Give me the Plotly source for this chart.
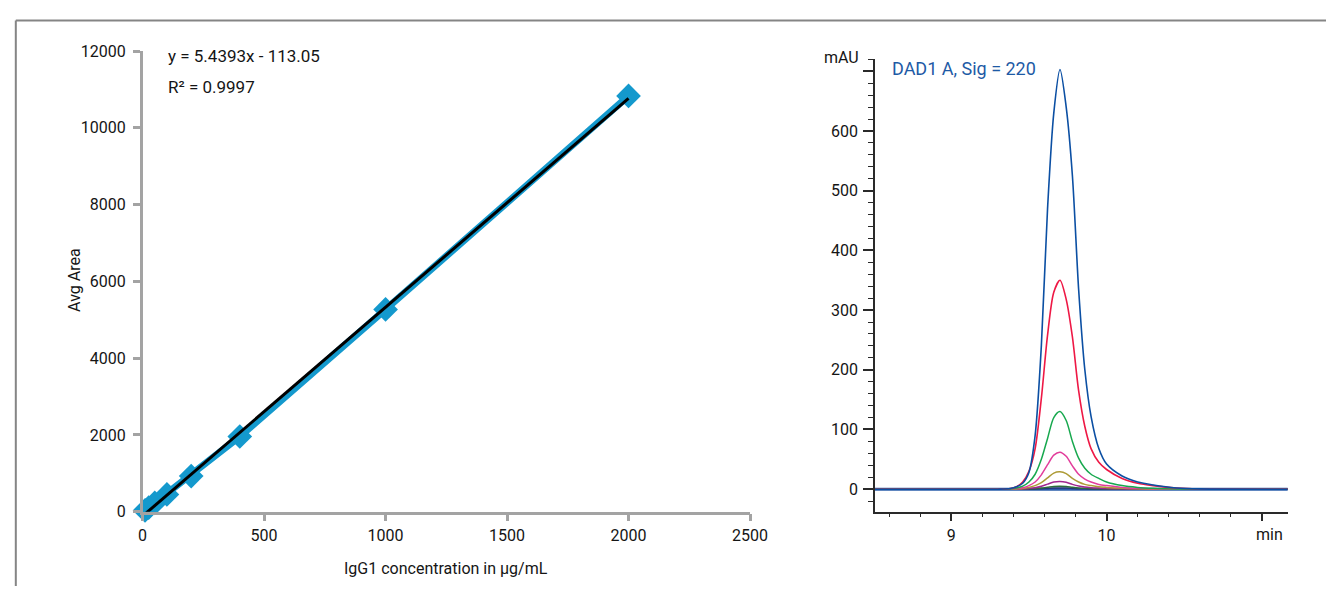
import plotly.graph_objects as go

W, H = 1344, 596

# ---------------- calibration data ----------------
conc_ug_ml = [10, 25, 50, 100, 200, 400, 1000, 2000]
avg_area = [35, 110, 230, 450, 930, 1960, 5270, 10830]
fit_slope = 5.4393
fit_intercept = -113.05
fit_r2 = 0.9997
x_ticks_cal = [0, 500, 1000, 1500, 2000, 2500]
y_ticks_cal = [0, 2000, 4000, 6000, 8000, 10000, 12000]

# ---------------- chromatogram overlay (DAD1 A, 220 nm) ----------------
rt_min = [8.50, 9.00, 9.30, 9.38, 9.42, 9.46, 9.50, 9.54, 9.58, 9.62, 9.66, 9.70, 9.74,
          9.78, 9.82, 9.86, 9.90, 9.95, 10.00, 10.10, 10.20, 10.30, 10.45, 10.60, 11.20]
mau_2000 = [0, 0, 0, 1, 4, 10, 28, 90, 240, 470, 630, 703, 640, 525, 335, 200, 122, 68, 42, 22, 12, 7, 2, 0.5, 0]
mau_1000 = [0, 0, 0, 1, 4, 12, 30, 68, 152, 258, 330, 350, 318, 255, 165, 105, 68, 45, 33, 18, 10, 6, 2, 0.5, 0]
mau_400 = [0, 0, 0, 0.5, 2, 5, 12, 25, 50, 85, 120, 130, 115, 80, 52, 35, 25, 18, 12, 6, 3, 1.5, 0.5, 0, 0]
mau_200 = [0, 0, 0, 0.3, 1, 2.5, 6, 12, 24, 41, 57, 62, 55, 39, 25, 17, 12, 8, 6, 3, 1.5, 0.7, 0.2, 0, 0]
mau_100 = [0, 0, 0, 0, 0.5, 1, 3, 6, 11, 19, 27, 29, 26, 18, 12, 8, 6, 4, 3, 1.5, 0.7, 0.3, 0, 0, 0]
mau_50 = [0, 0, 0, 0, 0.2, 0.5, 1.3, 2.5, 5, 8.5, 12, 13, 11.5, 8, 5.2, 3.5, 2.5, 1.8, 1.2, 0.6, 0.3, 0, 0, 0, 0]
mau_25 = [0, 0, 0, 0, 0, 0.2, 0.5, 1, 2, 3.3, 4.6, 5, 4.4, 3.1, 2, 1.4, 1, 0.7, 0.5, 0.2, 0.1, 0, 0, 0, 0]
mau_10 = [0, 0, 0, 0, 0, 0, 0.2, 0.4, 0.8, 1.3, 1.8, 2, 1.8, 1.3, 0.8, 0.6, 0.4, 0.3, 0.2, 0.1, 0, 0, 0, 0, 0]
mau_blank = [0] * len(rt_min)
# (values, colour, line width) in drawing order
chrom_series = [
    (mau_blank, "#2c5fab", 3.0),
    (mau_10, "#25337a", 1.5),
    (mau_25, "#2b6b3c", 1.5),
    (mau_50, "#a0268f", 1.5),
    (mau_100, "#ad9b36", 1.5),
    (mau_200, "#e23d9b", 1.5),
    (mau_400, "#17a84e", 1.5),
    (mau_1000, "#ee1845", 1.6),
    (mau_2000, "#0b4fa3", 1.6),
]
rt_major = [9, 10, 11]
rt_labels = ["9", "10", ""]
mau_major = [0, 100, 200, 300, 400, 500, 600, 700]
mau_labels = ["0", "100", "200", "300", "400", "500", "600", ""]


def px(x):
    return x / W


def py(y):
    return (H - y) / H


FONT = "Roboto, 'Liberation Sans', sans-serif"
CAL_BLUE = "#1499cd"
GRAY = "#a3a3a3"
DARK = "#2a2a2a"
TXT = "#151515"

fig = go.Figure()

# connected calibration points
fig.add_trace(go.Scatter(
    x=conc_ug_ml, y=avg_area, mode="lines+markers",
    line=dict(color=CAL_BLUE, width=7),
    marker=dict(symbol="diamond", size=19, color=CAL_BLUE),
    cliponaxis=False, xaxis="x", yaxis="y", showlegend=False,
))
# linear trendline from the stated regression
fit_x = [conc_ug_ml[0], conc_ug_ml[-1]]
fit_y = [fit_slope * v + fit_intercept for v in fit_x]
fig.add_trace(go.Scatter(
    x=fit_x, y=fit_y, mode="lines",
    line=dict(color="#000000", width=3),
    xaxis="x", yaxis="y", showlegend=False,
))

for vals, col, lw in chrom_series:
    fig.add_trace(go.Scatter(
        x=rt_min, y=vals, mode="lines",
        line=dict(color=col, width=lw, shape="spline", smoothing=0.8),
        xaxis="x2", yaxis="y2", showlegend=False,
    ))

fig.update_layout(
    width=W, height=H,
    margin=dict(l=0, r=0, t=0, b=0),
    paper_bgcolor="white", plot_bgcolor="white",
    font=dict(family=FONT, size=16, color=TXT),
    xaxis=dict(
        domain=[px(140), px(758)], range=[0, 2500],
        tickmode="array", tickvals=x_ticks_cal, ticktext=[str(v) for v in x_ticks_cal],
        ticks="outside", ticklen=7, tickwidth=2.5, tickcolor=GRAY,
        showline=True, linecolor=GRAY, linewidth=2.5, showgrid=False, zeroline=False,
        anchor="y", tickfont=dict(size=16),
    ),
    yaxis=dict(
        domain=[py(519.3), py(43.4)], range=[0, 12000],
        tickmode="array", tickvals=y_ticks_cal, ticktext=[str(v) for v in y_ticks_cal],
        ticks="outside", ticklen=7, tickwidth=2.5, tickcolor=GRAY,
        showline=True, linecolor=GRAY, linewidth=2.5, showgrid=False, zeroline=False,
        anchor="x", tickfont=dict(size=16), ticklabelstandoff=4,
    ),
    xaxis2=dict(
        domain=[px(885), px(1305)], range=[8.508, 11.166],
        tickmode="array", tickvals=rt_major, ticktext=rt_labels,
        ticks="outside", ticklen=8, tickwidth=1.5, tickcolor=DARK,
        minor=dict(tickmode="linear", tick0=9, dtick=0.2, ticks="outside", ticklen=4,
                   tickwidth=1.2, tickcolor=DARK, showgrid=False),
        showline=True, linecolor=DARK, linewidth=1.5, showgrid=False, zeroline=False,
        anchor="y2", tickfont=dict(size=16),
    ),
    yaxis2=dict(
        domain=[py(519.3), py(51.7)], range=[-37.8, 720.5],
        tickmode="array", tickvals=mau_major, ticktext=mau_labels,
        ticks="outside", ticklen=10, tickwidth=1.5, tickcolor=DARK,
        minor=dict(tickmode="linear", tick0=0, dtick=20, ticks="outside", ticklen=5,
                   tickwidth=1.2, tickcolor=DARK, showgrid=False),
        showline=True, linecolor=DARK, linewidth=1.5, showgrid=False, zeroline=False,
        anchor="x2", tickfont=dict(size=16), ticklabelstandoff=2,
    ),
    shapes=[
        dict(type="line", xref="paper", yref="paper", x0=px(11), x1=1.0, y0=py(12), y1=py(12),
             line=dict(color="#858585", width=2)),
        dict(type="line", xref="paper", yref="paper", x0=px(11), x1=px(11), y0=py(12), y1=0,
             line=dict(color="#858585", width=2)),
    ],
    annotations=[
        dict(xref="paper", yref="paper", x=px(449), y=py(578), xanchor="center", yanchor="middle",
             text="IgG1 concentration in µg/mL", showarrow=False, font=dict(size=16, color=TXT)),
        dict(xref="paper", yref="paper", x=px(70), y=py(280), xanchor="center", yanchor="middle",
             text="Avg Area", textangle=-90, showarrow=False, font=dict(size=16, color=TXT)),
        dict(xref="paper", yref="paper", x=px(164), y=py(49), xanchor="left", yanchor="middle",
             text=f"y = {fit_slope}x - {abs(fit_intercept):.2f}", showarrow=False,
             font=dict(size=17, color=TXT)),
        dict(xref="paper", yref="paper", x=px(164), y=py(81), xanchor="left", yanchor="middle",
             text=f"R² = {fit_r2}", showarrow=False, font=dict(size=17, color=TXT)),
        dict(xref="paper", yref="paper", x=px(871), y=py(50), xanchor="right", yanchor="middle",
             text="mAU", showarrow=False, font=dict(size=16, color=TXT)),
        dict(xref="paper", yref="paper", x=px(900), y=py(61), xanchor="left", yanchor="middle",
             text="DAD1 A, Sig = 220", showarrow=False, font=dict(size=18, color="#1e5aa5")),
        dict(xref="paper", yref="paper", x=px(1287), y=py(543), xanchor="center", yanchor="middle",
             text="min", showarrow=False, font=dict(size=16, color=TXT)),
    ],
)

# page body without default spacing so the figure sits flush in the window
fig.write_html("out.html", post_script="document.body.style.margin='0';")
